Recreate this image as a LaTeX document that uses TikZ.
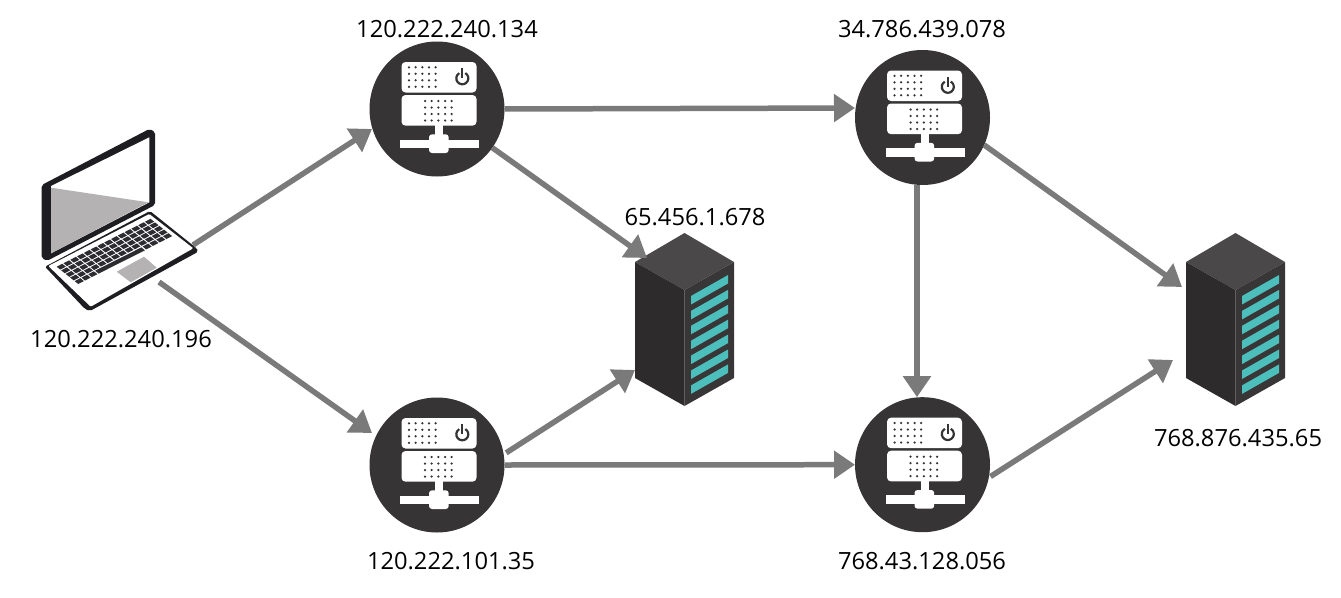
\documentclass[tikz,border=0pt]{standalone}
\usepackage{fontspec}
\setmainfont{Open Sans}
\usetikzlibrary{arrows.meta}

\definecolor{srvdark}{HTML}{363435}
\definecolor{linkgray}{HTML}{7A7A7A}
\definecolor{racktop}{HTML}{4A4849}
\definecolor{rackleft}{HTML}{2E2B2C}
\definecolor{rackright}{HTML}{383637}
\definecolor{rackstripe}{HTML}{4CBFBC}
\definecolor{lapblack}{HTML}{1E1E22}
\definecolor{lapkeys}{HTML}{2C2C31}
\definecolor{lapgray}{HTML}{B4B2B2}

\tikzset{
  srv/.style={circle,fill=srvdark,minimum size=135pt,inner sep=0pt,outer sep=0pt},
  box/.style={rectangle,minimum width=99pt,minimum height=173pt,inner sep=0pt,outer sep=0pt},
  link/.style={draw=linkgray,line width=5.5pt,-{Triangle[length=21pt,width=27pt]}},
  label/.style={font=\fontsize{23.7}{28}\selectfont,text=black},
  srvicon/.pic={
    % panels
    \fill[white,rounded corners=4pt] (-35.5,-47) rectangle (39.5,-16.5);
    \fill[white,rounded corners=4pt] (-35.5,-14) rectangle (39.5,16.7);
    % stem and bar
    \fill[white] (-2,16) rectangle (6,30);
    \fill[white] (-37,30.7) rectangle (42,39.3);
    \fill[white,rounded corners=3pt] (-8,25.3) rectangle (11.7,44);
    % dots
    \foreach \i in {0,...,4} \foreach \j in {0,...,3} {
      \fill[srvdark] (-28+\i*6.67,-41.7+\j*6.5) circle (1.25pt);
      \fill[srvdark] (-12+\i*6.67,-8+\j*6.5) circle (1.25pt);
    }
    % power sign
    \draw[srvdark,line width=2.2pt] (28.3,-35.9) arc (-60:240:6);
    \draw[srvdark,line width=2.2pt] (25.3,-41) -- (25.3,-31);
  },
  rackicon/.pic={
    \fill[racktop] (0,-86.5) -- (49.5,-57.5) -- (0,-29.5) -- (-49.5,-57.5) -- cycle;
    \fill[rackleft] (-49.5,-57.5) -- (0,-29.5) -- (0,86.5) -- (-49.5,58.5) -- cycle;
    \fill[rackright] (49.5,-57.5) -- (0,-29.5) -- (0,86.5) -- (49.5,58.5) -- cycle;
    \foreach \i in {0,...,6}
      \fill[rackstripe] (6.5,-23.5+\i*14.9) -- (43.5,-44.5+\i*14.9) -- (43.5,-36+\i*14.9) -- (6.5,-15+\i*14.9) -- cycle;
  },
}
\newcommand{\lapkey}[2]{\fill[lapkeys] ({56.7+#1*6.79+#2*4.5},{266.7-#1*3.46+#2*3.6}) -- ++(5.6,-2.9) -- ++(3.5,2.9) -- ++(-5.6,2.9) -- cycle;}

\begin{document}
\begin{tikzpicture}[x=1pt,y=-1pt]
\useasboundingbox (0,0) rectangle (1341,597);
% laptop
\node[box,minimum width=156pt,minimum height=184pt] (laptop) at (120,220) {};
\fill[lapblack,rounded corners=2pt] (41.7,185) -- (149.3,129) -- (155,131.7) -- (155,205) -- (47.3,260.7) -- (41.7,258.3) -- cycle;
\fill[white] (51,186) -- (149.3,137.3) -- (149.3,202.3) -- (51,253.3) -- cycle;
\fill[lapgray] (51,187.7) -- (148.3,202.3) -- (51,253.3) -- cycle;
\fill[lapblack,rounded corners=2pt] (45,266.7) -- (150,211) -- (196.7,248.3) -- (198.3,251.7) -- (90,311) -- (85,309) -- cycle;
\fill[white,rounded corners=1pt] (48.3,266) -- (149.3,214) -- (193.3,248.3) -- (90.7,306.7) -- cycle;
\foreach \i in {0,...,13} \foreach \j in {0,...,3} {\lapkey{\i}{\j}}
\foreach \i in {0,1,2,10,11,12,13} {\lapkey{\i}{4}}
\fill[lapkeys] (95.1,270.7) -- (141.4,247.4) -- (144.9,250.3) -- (98.6,273.6) -- cycle;
\fill[lapgray] (116.7,271.7) -- (144,256.7) -- (156.7,267.7) -- (130.7,282.3) -- cycle;
% servers
\node[srv] (srv_a) at (437,109) {};
\node[srv] (srv_b) at (922.5,117.5) {};
\node[srv] (srv_c) at (437,465) {};
\node[srv] (srv_d) at (922.5,464.7) {};
\pic at (srv_a) {srvicon};
\pic at (srv_b) {srvicon};
\pic at (srv_c) {srvicon};
\pic at (srv_d) {srvicon};
% racks
\node[box] (rack_a) at (684.5,319.5) {};
\node[box] (rack_b) at (1235.5,319.5) {};
\pic at (rack_a) {rackicon};
\pic at (rack_b) {rackicon};
% links
\draw[link] ([shift={(-5,117)}]laptop.north east) -- ([shift={(-65,20)}]srv_a.center);
\draw[link] ([shift={(-39,154)}]laptop.north east) -- ([shift={(-65,-32)}]srv_c.center);
\draw[link] (srv_a.east) -- ([yshift=9.5pt]srv_b.west);
\draw[link] (srv_c.east) -- (srv_d.west);
\draw[link] (srv_a.-35) -- ([shift={(12,25)}]rack_a.north west);
\draw[link,shorten <=3pt] (srv_c.9) -- ([shift={(0,137)}]rack_a.north west);
\draw[link] ([xshift=-5.5pt]srv_b.south) -- ([xshift=-5.5pt]srv_d.north);
\draw[link] (srv_b.-24) -- ([shift={(-4,54)}]rack_b.north west);
\draw[link,shorten <=2pt] (srv_d.-11) -- ([shift={(-13,127)}]rack_b.north west);
% labels
\node[label] (label_laptop) at (121,339) {120.222.240.196};
\node[label] (label_srv_a) at (447,29) {120.222.240.134};
\node[label] (label_srv_b) at (922,29) {34.786.439.078};
\node[label] (label_srv_c) at (451,561) {120.222.101.35};
\node[label] (label_srv_d) at (922,561) {768.43.128.056};
\node[label] (label_rack_a) at (695,217) {65.456.1.678};
\node[label] (label_rack_b) at (1238,438) {768.876.435.65};
\end{tikzpicture}
\end{document}
